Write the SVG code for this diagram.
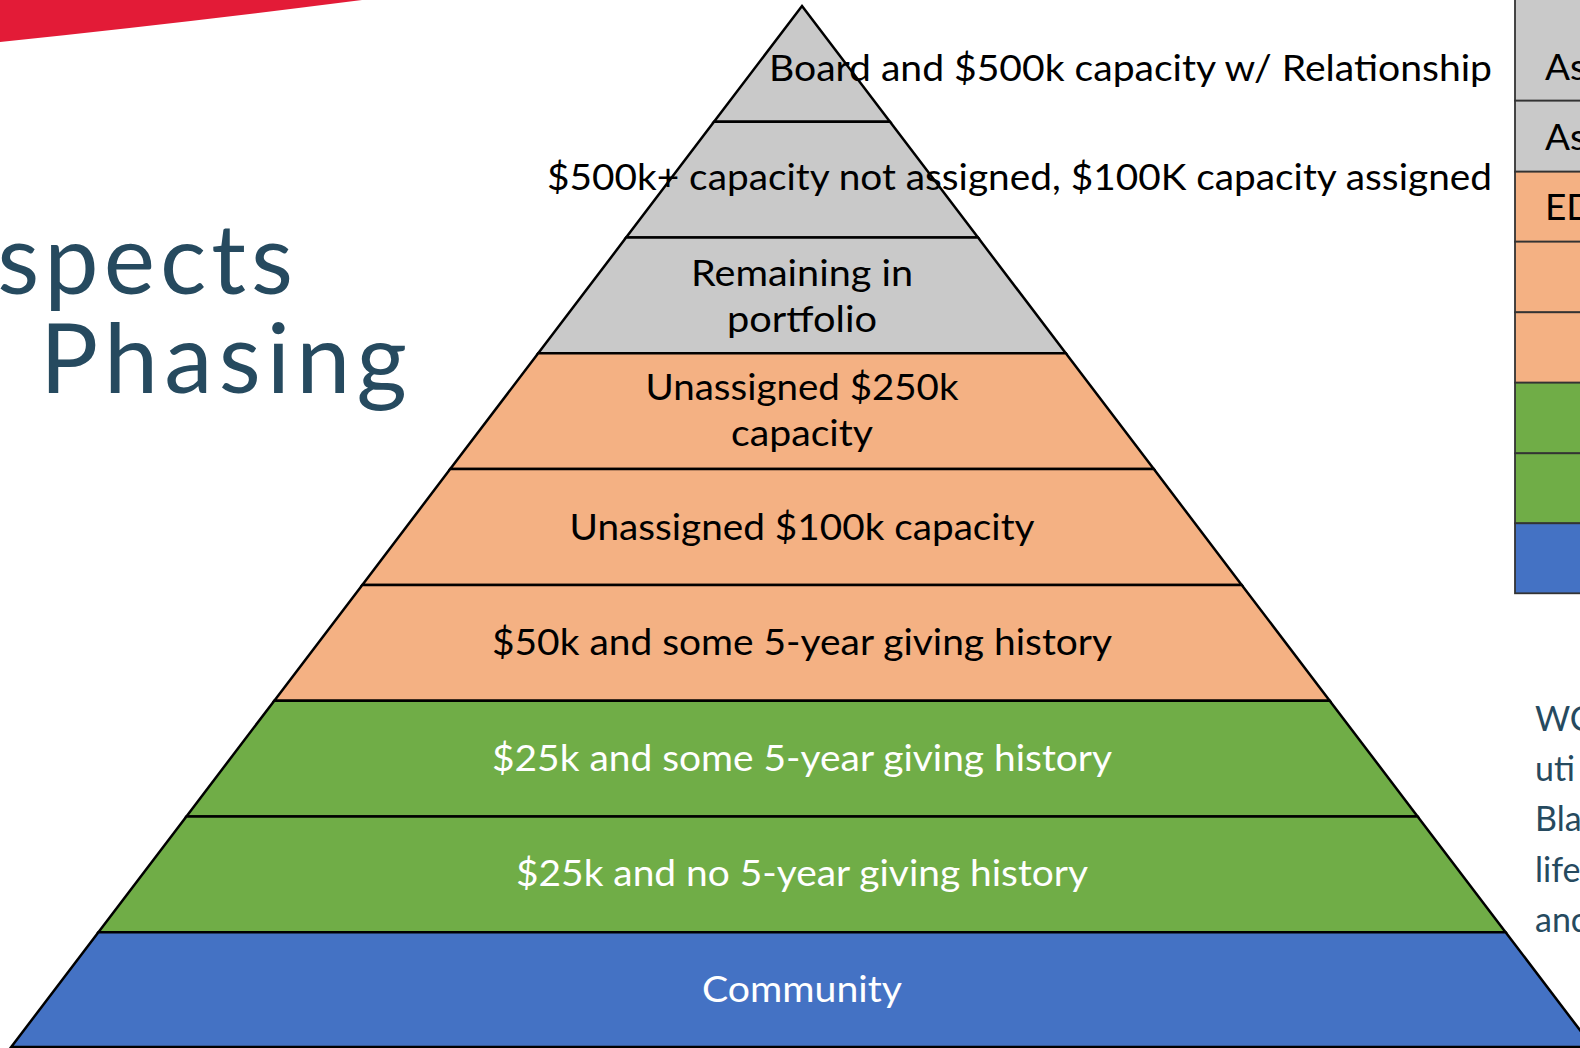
<svg xmlns="http://www.w3.org/2000/svg" width="1580" height="1048" viewBox="0 0 1580 1048">
  <style>
    .band { stroke: #000; stroke-width: 2.5; stroke-linejoin: miter; }
    .gray { fill: #C9C9C9; }
    .orange { fill: #F4B183; }
    .green { fill: #70AD47; }
    .blue { fill: #4472C4; }
    .lbl { font-family: Lato, "Liberation Sans", sans-serif; font-size: 37px; text-anchor: middle; fill: #000; }
    .lblw { fill: #FFFFFF; }
    .title { font-family: Lato, "Liberation Sans", sans-serif; font-size: 97px; fill: #264A5F; }
    .side { font-family: Lato, "Liberation Sans", sans-serif; font-size: 34px; fill: #264A5F; }
    .cell { stroke: #333; stroke-width: 1.8; }
    .tcell { font-family: Lato, "Liberation Sans", sans-serif; font-size: 37px; fill: #000; }
  </style>
  <rect width="1580" height="1048" fill="#FFFFFF"/>
  <path id="red-stripe" d="M0 0 H362 Q190 22 0 42 Z" fill="#E31B37"/>

  <g id="title">
    <text class="title" x="298" y="294" text-anchor="end" letter-spacing="5">spects</text>
    <text class="title" x="40" y="393" textLength="367" lengthAdjust="spacing">Phasing</text>
  </g>

  <g id="table">
    <rect class="cell gray" x="1515" y="-5" width="80" height="105.7"/>
    <rect class="cell gray" x="1515" y="100.7" width="80" height="71"/>
    <rect class="cell orange" x="1515" y="171.7" width="80" height="70"/>
    <rect class="cell orange" x="1515" y="241.7" width="80" height="70.6"/>
    <rect class="cell orange" x="1515" y="312.3" width="80" height="70.4"/>
    <rect class="cell green" x="1515" y="382.7" width="80" height="70.6"/>
    <rect class="cell green" x="1515" y="453.3" width="80" height="70"/>
    <rect class="cell blue" x="1515" y="523.3" width="80" height="70"/>
    <text class="tcell" x="1545" y="80">As</text>
    <text class="tcell" x="1545" y="150">As</text>
    <text class="tcell" x="1545" y="220">ED</text>
  </g>

  <g id="side-text">
    <text class="side" x="1535" y="731">WC</text>
    <text class="side" x="1535" y="781">uti</text>
    <text class="side" x="1535" y="831">Bla</text>
    <text class="side" x="1535" y="882">life</text>
    <text class="side" x="1535" y="932">anc</text>
  </g>

  <g id="pyramid">
    <polygon id="band1" class="band gray" points="802,6 890,121.8 714,121.8"/>
    <polygon id="band2" class="band gray" points="714,121.8 890,121.8 978,237.6 626.1,237.6"/>
    <polygon id="band3" class="band gray" points="626.1,237.6 978,237.6 1065.8,353.3 538.2,353.3"/>
    <polygon id="band4" class="band orange" points="538.2,353.3 1065.8,353.3 1153.8,469.1 450.2,469.1"/>
    <polygon id="band5" class="band orange" points="450.2,469.1 1153.8,469.1 1241.7,584.9 362.3,584.9"/>
    <polygon id="band6" class="band orange" points="362.3,584.9 1241.7,584.9 1329.7,700.7 274.3,700.7"/>
    <polygon id="band7" class="band green" points="274.3,700.7 1329.7,700.7 1417.6,816.4 186.4,816.4"/>
    <polygon id="band8" class="band green" points="186.4,816.4 1417.6,816.4 1505.6,932.2 98.4,932.2"/>
    <polygon id="band9" class="band blue" points="98.4,932.2 1505.6,932.2 1592.8,1047 11.2,1047"/>
  </g>

  <g id="labels">
    <text class="lbl" x="1492" y="81" style="text-anchor:end" textLength="723" lengthAdjust="spacingAndGlyphs">Board and $500k capacity w/ Relationship</text>
    <text class="lbl" x="1492" y="190" style="text-anchor:end" textLength="945" lengthAdjust="spacingAndGlyphs">$500k+ capacity not assigned, $100K capacity assigned</text>
    <text class="lbl" x="802" y="286" textLength="222" lengthAdjust="spacingAndGlyphs">Remaining in</text>
    <text class="lbl" x="802" y="332" textLength="150" lengthAdjust="spacingAndGlyphs">portfolio</text>
    <text class="lbl" x="802" y="400" textLength="313" lengthAdjust="spacingAndGlyphs">Unassigned $250k</text>
    <text class="lbl" x="802" y="446" textLength="142" lengthAdjust="spacingAndGlyphs">capacity</text>
    <text class="lbl" x="802" y="540" textLength="465" lengthAdjust="spacingAndGlyphs">Unassigned $100k capacity</text>
    <text class="lbl" x="802" y="655" textLength="620" lengthAdjust="spacingAndGlyphs">$50k and some 5-year giving history</text>
    <text class="lbl lblw" x="802" y="771" textLength="620" lengthAdjust="spacingAndGlyphs">$25k and some 5-year giving history</text>
    <text class="lbl lblw" x="802" y="886" textLength="572" lengthAdjust="spacingAndGlyphs">$25k and no 5-year giving history</text>
    <text class="lbl lblw" x="802" y="1002" textLength="200" lengthAdjust="spacingAndGlyphs">Community</text>
  </g>
</svg>
